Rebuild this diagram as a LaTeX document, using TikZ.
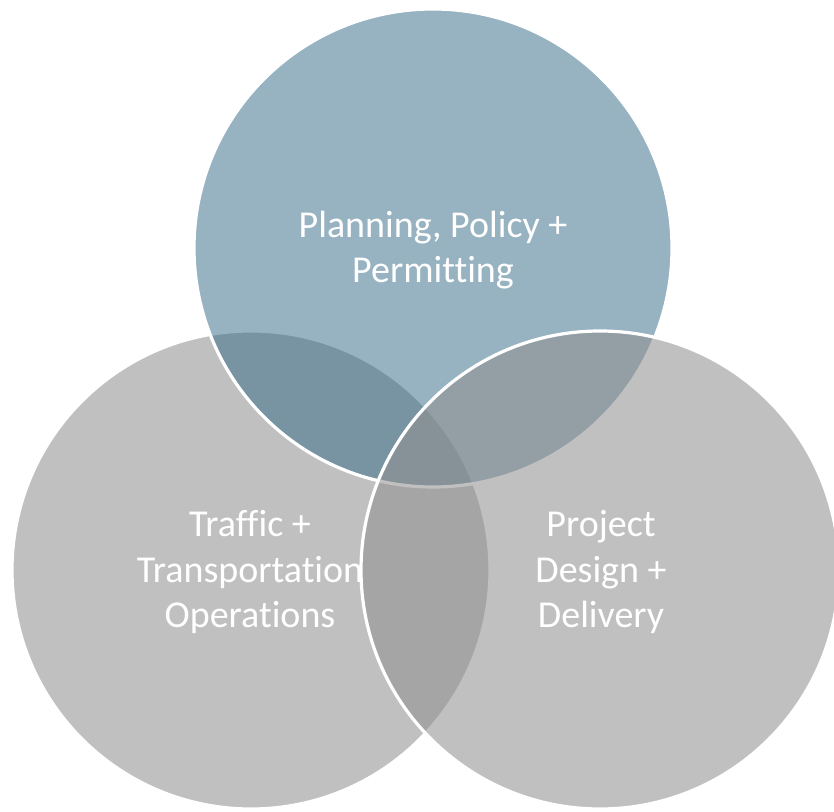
\documentclass[tikz,border=0pt]{standalone}
\usepackage{fontspec}
\setmainfont{Carlito}[Ligatures=NoCommon]
\definecolor{circgray}{HTML}{919191}
\definecolor{circblue}{HTML}{336885}

\begin{document}
\begin{tikzpicture}[x=0.75pt, y=-0.75pt,
	circ/.style={draw=white, line width=2.4pt, fill opacity=0.57},
	label/.style={text=white, align=center, font=\fontsize{28.5}{33.8}\selectfont}]
\useasboundingbox (0,0) rectangle (834,812);
% left circle
\draw[circ, fill=circgray] (251,570) circle (239);
\node[label] (traffic) at (250,572) {Traffic +\\Transportation\\Operations};
% top circle
\draw[circ, fill=circblue, fill opacity=0.51] (433,248) circle (239);
\node[label] (planning) at (433,250) {Planning, Policy +\\Permitting};
% right circle
\draw[circ, fill=circgray] (600,570) circle (239);
\node[label] (project) at (601,572) {Project\\Design +\\Delivery};
\end{tikzpicture}
\end{document}
